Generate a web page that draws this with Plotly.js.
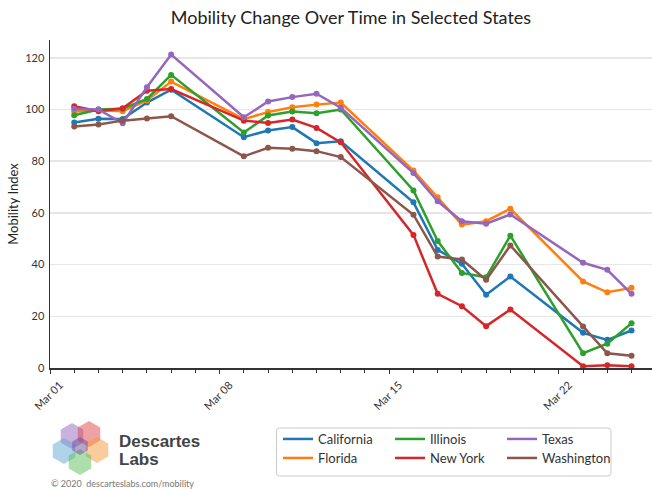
<!DOCTYPE html>
<html>
<head>
<meta charset="utf-8">
<script src="https://cdn.plot.ly/plotly-3.0.1.min.js"></script>
<style>html,body{margin:0;padding:0;background:#fff;}#chart{width:652px;height:489px;}</style>
</head>
<body>
<div id="chart"></div>
<script>
const dates = ['2020-03-02','2020-03-03','2020-03-04','2020-03-05','2020-03-06',
               '2020-03-09','2020-03-10','2020-03-11','2020-03-12','2020-03-13',
               '2020-03-16','2020-03-17','2020-03-18','2020-03-19','2020-03-20',
               '2020-03-23','2020-03-24','2020-03-25'];
const states = ['California','Florida','Illinois','New York','Texas','Washington'];
const california = [95, 96.4, 96.3, 102.7, 107.7, 89.3, 91.9, 93.2, 87, 87.7, 64.1, 45.7, 40.3, 28.3, 35.4, 13.6, 10.9, 14.5];
const florida    = [99.2, 99.7, 99.3, 103.5, 110.8, 96.3, 99, 100.9, 101.9, 102.7, 76.4, 66.1, 55.5, 56.8, 61.6, 33.5, 29.3, 31];
const illinois   = [97.8, 100, 100.3, 104.1, 113.4, 91.1, 97.7, 99.2, 98.6, 100, 68.7, 49.1, 36.8, 35.1, 51.2, 5.7, 9.4, 17.3];
const newYork    = [101.3, 99.3, 100.5, 107.3, 107.9, 95.7, 94.8, 96.1, 92.9, 87.3, 51.5, 28.7, 23.9, 16.2, 22.6, 0.7, 1.1, 0.7];
const texas      = [100.3, 100, 94.7, 108.6, 121.3, 97, 103.1, 104.8, 106.1, 100.7, 75.4, 64.5, 56.8, 55.8, 59.4, 40.7, 38, 28.7];
const washington = [93.4, 94.2, 95.7, 96.5, 97.4, 81.9, 85.2, 84.8, 83.9, 81.6, 59.3, 43.1, 42, 34.1, 47.4, 16.1, 5.7, 4.7];
const yTicks = [0, 20, 40, 60, 80, 100, 120];

const series = [california, florida, illinois, newYork, texas, washington];
const colors = ['#1f77b4','#ff7f0e','#2ca02c','#d62728','#9467bd','#8c564b'];
const legendOf = ['legend','legend2','legend','legend2','legend','legend2'];

const FONT = 'Lato, "Noto Sans", sans-serif';

const traces = series.map((vals, i) => ({
  type: 'scatter', mode: 'lines+markers', name: states[i],
  x: dates, y: vals,
  line: {color: colors[i], width: 2.5},
  marker: {color: colors[i], size: 6},
  showlegend: false
}));
// legend keys (line only, as in the reference legend)
states.forEach((s, i) => traces.push({
  type: 'scatter', mode: 'lines', name: s, x: [null], y: [null],
  line: {color: colors[i], width: 2.5}, legend: legendOf[i], showlegend: true, hoverinfo: 'skip'
}));

// pixel helpers for decorations (plot area: left 50, right 652, top 40, bottom 368)
const W = 652, H = 489;
const L = 50, R = 652, T = 40, B = 368;
const px = x => (x - L) / (R - L);
const py = y => (B - y) / (B - T);
const cx = x => x / W;
const cy = y => 1 - y / H;

function hex(x0, y0, r) {
  let d = '';
  for (let k = 0; k < 6; k++) {
    const a = Math.PI / 180 * (60 * k - 90);
    const x = x0 + r * Math.cos(a), y = y0 + r * Math.sin(a);
    d += (k === 0 ? 'M' : 'L') + px(x).toFixed(5) + ',' + py(y).toFixed(5);
  }
  return d + 'Z';
}
function roundRect(x0, y0, x1, y1, r) {
  const P = (x, y) => px(x).toFixed(5) + ',' + py(y).toFixed(5);
  return 'M' + P(x0 + r, y0) + 'L' + P(x1 - r, y0) + 'Q' + P(x1, y0) + ' ' + P(x1, y0 + r) +
         'L' + P(x1, y1 - r) + 'Q' + P(x1, y1) + ' ' + P(x1 - r, y1) +
         'L' + P(x0 + r, y1) + 'Q' + P(x0, y1) + ' ' + P(x0, y1 - r) +
         'L' + P(x0, y0 + r) + 'Q' + P(x0, y0) + ' ' + P(x0 + r, y0) + 'Z';
}
const hexes = [
  [72, 436, 13, '#9467bd'], [89, 434, 13, '#e0454a'], [64, 451, 13, '#5fa8d3'],
  [97, 450, 13, '#f2993a'], [80, 462, 13, '#5cbf5c'], [80, 446, 9, '#6b4c9a']
];
const shapes = hexes.map(h => ({
  type: 'path', xref: 'paper', yref: 'paper', path: hex(h[0], h[1], h[2]),
  fillcolor: h[3], opacity: 0.5, line: {width: 0}
}));
shapes.push({type: 'path', xref: 'paper', yref: 'paper', path: roundRect(276.5, 428, 611, 476, 3),
  fillcolor: 'rgba(255,255,255,0)', line: {color: '#cccccc', width: 1}});

const legendBase = {orientation: 'h', xref: 'container', yref: 'container', xanchor: 'left', yanchor: 'middle',
  entrywidth: 67, entrywidthmode: 'pixels', font: {size: 13, color: '#333'},
  bgcolor: 'rgba(0,0,0,0)', tracegroupgap: 0, itemwidth: 30};

const layout = {
  width: W, height: H,
  margin: {l: L, r: W - R, t: T, b: H - B},
  paper_bgcolor: '#ffffff', plot_bgcolor: '#ffffff',
  font: {family: FONT, color: '#333333', size: 11},
  title: {text: 'Mobility Change Over Time in Selected States', x: 0.5, xref: 'paper', xanchor: 'center',
          y: 1 - 18 / H, yref: 'container', yanchor: 'middle',
          font: {family: FONT, size: 18, color: '#222222'}},
  xaxis: {
    type: 'date', range: ['2020-03-01', '2020-03-25 20:17'], automargin: false,
    tick0: '2020-03-01', dtick: 7 * 86400000, tickformat: '%b %d', tickangle: -45,
    ticklabelshift: 10, ticklabelstandoff: 1,
    ticks: 'outside', ticklen: 4, tickcolor: '#333', tickwidth: 1,
    minor: {dtick: 86400000, ticks: 'outside', ticklen: 3, tickcolor: '#333', tickwidth: 1},
    showline: true, linecolor: '#333333', linewidth: 1.5, showgrid: false, zeroline: false,
    tickfont: {size: 11, color: '#333'}
  },
  yaxis: {
    range: [0, 126.9], tickvals: yTicks, ticks: '', ticklabelstandoff: 2, automargin: false,
    showline: true, linecolor: '#333333', linewidth: 1.5,
    showgrid: true, gridcolor: '#e6e6e6', gridwidth: 1.5, zeroline: false,
    tickfont: {size: 11, color: '#333'},
    title: {text: 'Mobility Index', font: {size: 13, color: '#222'}, standoff: 3}
  },
  showlegend: true,
  legend: Object.assign({}, legendBase, {x: cx(278), y: cy(439)}),
  legend2: Object.assign({}, legendBase, {x: cx(278), y: cy(458)}),
  shapes: shapes,
  annotations: [
    {text: '<b>Descartes</b>', xref: 'paper', yref: 'paper', x: px(117), y: py(441), xanchor: 'left', yanchor: 'middle',
     showarrow: false, font: {family: '"Liberation Sans", Arial, sans-serif', size: 17, color: '#444'}},
    {text: '<b>Labs</b>', xref: 'paper', yref: 'paper', x: px(117), y: py(459), xanchor: 'left', yanchor: 'middle',
     showarrow: false, font: {family: '"Liberation Sans", Arial, sans-serif', size: 17, color: '#444'}},
    {text: '© 2020  descarteslabs.com/mobility', xref: 'paper', yref: 'paper', x: px(49), y: py(483), xanchor: 'left', yanchor: 'middle',
     showarrow: false, font: {family: FONT, size: 9, color: '#777'}}
  ]
};

Plotly.newPlot('chart', traces, layout, {displayModeBar: false, staticPlot: true});
</script>
</body>
</html>
